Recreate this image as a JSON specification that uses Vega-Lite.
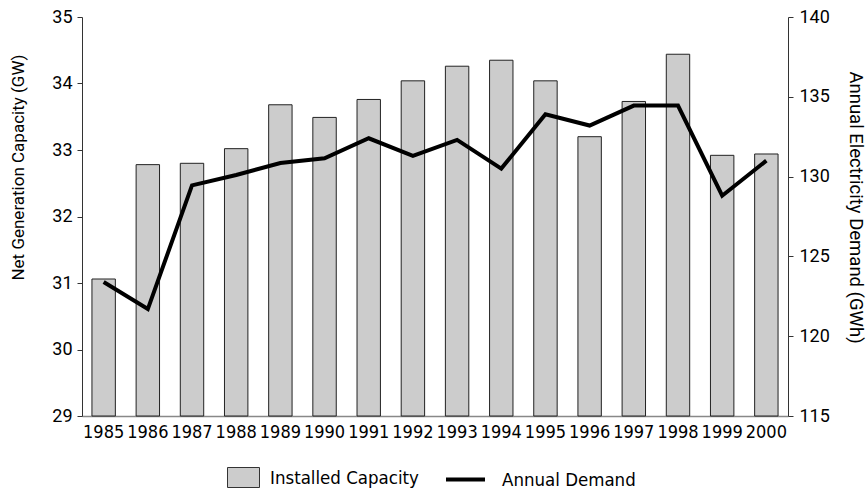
{
  "$schema": "https://vega.github.io/schema/vega-lite/v6.json",
  "width": 706,
  "height": 399,
  "autosize": {"type": "none"},
  "padding": {"left": 82, "top": 17, "right": 79, "bottom": 78},
  "data": {
    "values": [
      {"year": "1985", "capacity": 31.06, "demand": 123.4},
      {"year": "1986", "capacity": 32.78, "demand": 121.7},
      {"year": "1987", "capacity": 32.80, "demand": 129.45},
      {"year": "1988", "capacity": 33.02, "demand": 130.1},
      {"year": "1989", "capacity": 33.68, "demand": 130.85},
      {"year": "1990", "capacity": 33.49, "demand": 131.15},
      {"year": "1991", "capacity": 33.76, "demand": 132.4},
      {"year": "1992", "capacity": 34.04, "demand": 131.3},
      {"year": "1993", "capacity": 34.26, "demand": 132.3},
      {"year": "1994", "capacity": 34.35, "demand": 130.5},
      {"year": "1995", "capacity": 34.04, "demand": 133.9},
      {"year": "1996", "capacity": 33.20, "demand": 133.2},
      {"year": "1997", "capacity": 33.73, "demand": 134.45},
      {"year": "1998", "capacity": 34.44, "demand": 134.45},
      {"year": "1999", "capacity": 32.92, "demand": 128.8},
      {"year": "2000", "capacity": 32.94, "demand": 131.0}
    ]
  },
  "encoding": {
    "x": {
      "field": "year",
      "type": "ordinal",
      "scale": {"paddingInner": 0.47, "paddingOuter": 0.225},
      "axis": {
        "title": null,
        "labelAngle": 0,
        "ticks": false,
        "domainColor": "#888888",
        "domainWidth": 1.5,
        "labelPadding": 7,
        "labelFont": "DejaVu Sans Condensed, Lato",
        "labelFontSize": 18,
        "labelColor": "#000000"
      }
    }
  },
  "layer": [
    {
      "mark": {"type": "bar", "stroke": "#222222", "strokeWidth": 1},
      "encoding": {
        "y": {
          "field": "capacity",
          "type": "quantitative",
          "scale": {"domain": [29, 35], "zero": false, "nice": false},
          "axis": {
            "orient": "left",
            "values": [29, 30, 31, 32, 33, 34, 35],
            "grid": false,
            "tickSize": 5,
            "tickColor": "#333333",
            "domainColor": "#333333",
            "labelPadding": 5,
            "labelFont": "Roboto",
            "labelFontSize": 18,
            "labelColor": "#000000",
            "title": "Net Generation Capacity (GW)",
            "titleFont": "Roboto",
            "titleFontSize": 17,
            "titleFontWeight": "normal",
            "titleColor": "#000000",
            "titleX": -64,
            "titleY": 150,
            "titleAngle": 270,
            "titleAlign": "center",
            "titleBaseline": "middle"
          }
        },
        "y2": {"datum": 29},
        "fill": {
          "datum": "Installed Capacity",
          "type": "nominal",
          "scale": {"range": ["#cccccc"]},
          "legend": {
            "title": null,
            "orient": "none",
            "legendX": 151,
            "legendY": 450,
            "padding": 0,
            "symbolType": "M-1.6,-1H1.6V1H-1.6Z",
            "symbolSize": 400,
            "symbolStrokeColor": "#333333",
            "symbolStrokeWidth": 1,
            "symbolFillColor": "#cccccc",
            "labelOffset": 16,
            "labelFont": "DejaVu Sans Condensed, Lato",
            "labelFontSize": 18.5,
            "labelColor": "#000000"
          }
        }
      }
    },
    {
      "mark": {"type": "line", "strokeWidth": 4, "strokeJoin": "miter"},
      "encoding": {
        "y": {
          "field": "demand",
          "type": "quantitative",
          "scale": {"domain": [115, 140], "zero": false, "nice": false},
          "axis": {
            "orient": "right",
            "values": [115, 120, 125, 130, 135, 140],
            "grid": false,
            "tickSize": 5,
            "tickColor": "#333333",
            "domainColor": "#333333",
            "labelPadding": 6,
            "labelFont": "Roboto",
            "labelFontSize": 18,
            "labelColor": "#000000",
            "title": "Annual Electricity Demand (GWh)",
            "titleFont": "Roboto",
            "titleFontSize": 18.5,
            "titleFontWeight": "normal",
            "titleColor": "#000000",
            "titleX": 67,
            "titleY": 190,
            "titleAngle": 90,
            "titleAlign": "center",
            "titleBaseline": "middle"
          }
        },
        "stroke": {
          "datum": "Annual Demand",
          "type": "nominal",
          "scale": {"range": ["#000000"]},
          "legend": {
            "title": null,
            "orient": "none",
            "legendX": 362,
            "legendY": 441,
            "padding": 0,
            "symbolType": "stroke",
            "symbolSize": 1521,
            "symbolStrokeWidth": 4,
            "symbolStrokeColor": "#000000",
            "labelOffset": 15,
            "labelFont": "DejaVu Sans Condensed, Lato",
            "labelFontSize": 18.5,
            "labelColor": "#000000"
          }
        }
      }
    }
  ],
  "resolve": {"scale": {"y": "independent"}},
  "config": {"view": {"stroke": null}}
}
